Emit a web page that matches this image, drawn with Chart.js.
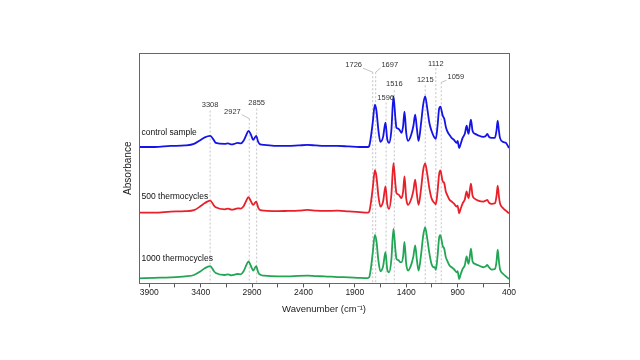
<!DOCTYPE html>
<html>
<head>
<meta charset="utf-8">
<script src="https://cdn.jsdelivr.net/npm/chart.js@4.4.0/dist/chart.umd.min.js"></script>
<style>
html, body { margin: 0; padding: 0; background: #fff; }
#wrap { width: 640px; height: 360px; }
</style>
</head>
<body>
<div id="wrap"><canvas id="chart_ftir" width="640" height="360"></canvas></div>
<script>
// FTIR spectra, wavenumber in cm-1 (x), absorbance with vertical offsets (y)
var wavenumbers = [
    4000, 3850, 3693, 3550, 3465, 3400, 3360, 3308, 3270, 3253,
    3166, 3133, 3100, 3074, 3042, 3010, 2984, 2960, 2935, 2910,
    2889, 2860, 2840, 2820, 2782, 2650, 2555, 2450, 2360, 2280,
    2197, 2067, 1960, 1853, 1775, 1760, 1745, 1726, 1705, 1690,
    1670, 1651, 1625, 1602, 1585, 1567, 1545, 1524, 1505, 1495,
    1475, 1460, 1446, 1430, 1417, 1400, 1382, 1349, 1330, 1313,
    1296, 1280, 1255, 1235, 1216, 1195, 1175, 1154, 1130, 1122,
    1112, 1095, 1080, 1068, 1045, 1030, 1015, 1002, 980, 959,
    935, 910, 900, 885, 870, 851, 830, 812, 800, 793,
    780, 770, 755, 731, 700, 651, 625, 612, 595, 569,
    537, 522, 510, 498, 488, 456, 430, 400
];
var controlSample = [
    1.35, 1.35, 1.36, 1.365, 1.38, 1.42, 1.445, 1.46, 1.415, 1.39,
    1.38, 1.385, 1.375, 1.38, 1.39, 1.385, 1.41, 1.46, 1.51, 1.47,
    1.42, 1.46, 1.40, 1.375, 1.37, 1.36, 1.36, 1.365, 1.37, 1.365,
    1.36, 1.36, 1.355, 1.35, 1.35, 1.36, 1.44, 1.59, 1.77, 1.71,
    1.51, 1.40, 1.45, 1.59, 1.43, 1.39, 1.51, 1.85, 1.63, 1.54,
    1.53, 1.51, 1.49, 1.56, 1.70, 1.49, 1.41, 1.48, 1.56, 1.67,
    1.53, 1.41, 1.59, 1.77, 1.85, 1.73, 1.59, 1.51, 1.45, 1.44,
    1.43, 1.56, 1.73, 1.75, 1.66, 1.63, 1.55, 1.51, 1.47, 1.44,
    1.42, 1.39, 1.41, 1.34, 1.38, 1.44, 1.48, 1.56, 1.50, 1.48,
    1.57, 1.62, 1.51, 1.48, 1.465, 1.45, 1.46, 1.48, 1.45, 1.44,
    1.44, 1.51, 1.61, 1.51, 1.44, 1.40, 1.39, 1.34
];
var thermocycles500 = [
    0.70, 0.70, 0.71, 0.715, 0.725, 0.765, 0.795, 0.82, 0.77, 0.753,
    0.733, 0.74, 0.73, 0.733, 0.743, 0.74, 0.76, 0.81, 0.853, 0.81,
    0.777, 0.81, 0.75, 0.725, 0.72, 0.715, 0.717, 0.72, 0.727, 0.72,
    0.717, 0.72, 0.712, 0.705, 0.70, 0.71, 0.79, 0.94, 1.12, 1.06,
    0.86, 0.76, 0.81, 0.96, 0.79, 0.737, 0.87, 1.19, 0.98, 0.893,
    0.88, 0.86, 0.843, 0.91, 1.06, 0.84, 0.777, 0.843, 0.92, 1.027,
    0.88, 0.777, 0.94, 1.12, 1.187, 1.08, 0.94, 0.843, 0.80, 0.793,
    0.783, 0.91, 1.08, 1.117, 1.01, 0.993, 0.91, 0.877, 0.83, 0.81,
    0.79, 0.76, 0.77, 0.693, 0.74, 0.793, 0.83, 0.91, 0.86, 0.843,
    0.93, 0.987, 0.87, 0.837, 0.82, 0.81, 0.82, 0.827, 0.80, 0.787,
    0.793, 0.86, 0.967, 0.86, 0.793, 0.743, 0.72, 0.693
];
var thermocycles1000 = [
    0.05, 0.055, 0.06, 0.07, 0.083, 0.12, 0.15, 0.17, 0.12, 0.103,
    0.083, 0.09, 0.08, 0.085, 0.093, 0.09, 0.117, 0.17, 0.217, 0.17,
    0.127, 0.17, 0.11, 0.085, 0.077, 0.07, 0.07, 0.075, 0.077, 0.072,
    0.07, 0.063, 0.06, 0.055, 0.053, 0.06, 0.14, 0.30, 0.48, 0.42,
    0.22, 0.12, 0.17, 0.31, 0.14, 0.11, 0.23, 0.54, 0.33, 0.243,
    0.23, 0.21, 0.21, 0.27, 0.41, 0.19, 0.127, 0.193, 0.27, 0.377,
    0.23, 0.127, 0.29, 0.47, 0.553, 0.44, 0.30, 0.193, 0.16, 0.16,
    0.133, 0.27, 0.45, 0.477, 0.37, 0.343, 0.26, 0.227, 0.18, 0.16,
    0.14, 0.11, 0.12, 0.043, 0.09, 0.143, 0.18, 0.267, 0.21, 0.193,
    0.28, 0.343, 0.22, 0.193, 0.18, 0.16, 0.17, 0.183, 0.16, 0.137,
    0.143, 0.21, 0.333, 0.22, 0.143, 0.093, 0.07, 0.043
];
var seriesNames = ['control sample', '500 thermocycles', '1000 thermocycles'];

// marked bands: where the dashed line starts, where its label sits
var peakWavenumbers = [3308, 2927, 2855, 1726, 1697, 1596, 1516, 1215, 1112, 1059];
var peakLineTops = [1.71, 1.63, 1.73, 2.09, 2.09, 1.79, 1.91, 1.96, 2.13, 1.99];
var peakLabelX = [3308, 3091, 2855, 1911, 1560, 1600, 1516, 1215, 1112, 917];
var peakLabelY = [1.77, 1.70, 1.79, 2.16, 2.16, 1.84, 1.97, 2.01, 2.17, 2.04];

var xTickLabels = [3900, 3400, 2900, 2400, 1900, 1400, 900, 400];
var xMinorTicks = [3650, 3150, 2650, 2150, 1650, 1150, 650];

var seriesLabelX = 3975;
var seriesLabelY = [1.49, 0.86, 0.24];

var traceColors = ['#1414e6', '#e8202a', '#22a655'];
var fontFamily = '"Liberation Sans", Arial, sans-serif';
var narrowFamily = '"Liberation Sans Narrow", "Liberation Sans", Arial, sans-serif';

function toPoints(ys) {
    return wavenumbers.map(function (w, i) { return { x: w, y: ys[i] }; });
}

var peakLinePoints = [];
peakWavenumbers.forEach(function (w, i) {
    peakLinePoints.push({ x: w, y: peakLineTops[i] }, { x: w, y: 0 }, { x: w, y: null });
});

var traces = [controlSample, thermocycles500, thermocycles1000];
var datasets = traces.map(function (ys, i) {
    return {
        label: seriesNames[i],
        data: toPoints(ys),
        borderColor: traceColors[i],
        borderWidth: 1.8,
        pointRadius: 0,
        cubicInterpolationMode: 'monotone',
        fill: false,
        order: 0
    };
});
datasets.push({
    label: 'bands',
    data: peakLinePoints,
    borderColor: '#b4b4b4',
    borderWidth: 0.8,
    borderDash: [2, 2],
    pointRadius: 0,
    spanGaps: false,
    order: 10
});

var framePlugin = {
    id: 'frame',
    afterDraw: function (chart) {
        var a = chart.chartArea, ctx = chart.ctx;
        ctx.save();
        ctx.strokeStyle = '#666';
        ctx.lineWidth = 1;
        ctx.strokeRect(Math.round(a.left) + 0.5, Math.round(a.top) + 0.5,
            Math.round(a.right - a.left), Math.round(a.bottom - a.top));
        // y axis title, drawn by hand so it sits close to the frame
        ctx.font = '10px ' + fontFamily;
        ctx.fillStyle = '#222';
        ctx.textAlign = 'center';
        ctx.textBaseline = 'middle';
        ctx.translate(a.left - 11, (a.top + a.bottom) / 2);
        ctx.rotate(-Math.PI / 2);
        ctx.fillText('Absorbance', 0, 0);
        ctx.restore();
    }
};

var labelPlugin = {
    id: 'peakLabels',
    afterDatasetsDraw: function (chart) {
        var ctx = chart.ctx, xs = chart.scales.x, ys = chart.scales.y;
        ctx.save();
        ctx.font = '7.5px ' + narrowFamily;
        ctx.textAlign = 'center';
        ctx.textBaseline = 'middle';
        ctx.fillStyle = '#333';
        peakWavenumbers.forEach(function (w, i) {
            var lx = xs.getPixelForValue(peakLabelX[i]);
            var ly = ys.getPixelForValue(peakLabelY[i]);
            ctx.fillText(String(w), lx, ly);
            var px = xs.getPixelForValue(w);
            if (Math.abs(px - lx) > 4) {
                var py = ys.getPixelForValue(peakLineTops[i]);
                var half = ctx.measureText(String(w)).width / 2 + 1;
                var sx = px > lx ? lx + half : lx - half;
                ctx.strokeStyle = '#b4b4b4';
                ctx.lineWidth = 0.8;
                ctx.beginPath();
                ctx.moveTo(sx, ly + 3);
                ctx.lineTo(px, py);
                ctx.stroke();
            }
        });
        ctx.font = '8.5px ' + narrowFamily;
        ctx.textAlign = 'left';
        ctx.fillStyle = '#111';
        seriesNames.forEach(function (name, i) {
            ctx.fillText(name, xs.getPixelForValue(seriesLabelX), ys.getPixelForValue(seriesLabelY[i]));
        });
        ctx.restore();
    }
};

var chart_ftir = new Chart(document.getElementById('chart_ftir'), {
    type: 'line',
    data: { datasets: datasets },
    options: {
        animation: false,
        responsive: false,
        layout: { padding: { left: 139, right: 131, top: 53, bottom: 45 } },
        plugins: {
            legend: { display: false },
            tooltip: { enabled: false }
        },
        scales: {
            x: {
                type: 'linear',
                reverse: true,
                min: 400,
                max: 4000,
                afterBuildTicks: function (axis) {
                    axis.ticks = xTickLabels.concat(xMinorTicks)
                        .sort(function (a, b) { return a - b; })
                        .map(function (v) { return { value: v }; });
                },
                ticks: {
                    autoSkip: false,
                    maxRotation: 0,
                    padding: 0,
                    color: '#222',
                    font: { family: fontFamily, size: 8.5 },
                    callback: function (v) { return xTickLabels.indexOf(v) >= 0 ? String(v) : ''; }
                },
                grid: { display: true, drawOnChartArea: false, drawTicks: true, tickLength: 4, color: '#555' },
                border: { display: true, color: '#555' },
                title: {
                    display: true,
                    text: 'Wavenumber (cm\u207B\u00B9)',
                    color: '#222',
                    font: { family: fontFamily, size: 9.5 },
                    padding: { top: 6, bottom: 0 }
                }
            },
            y: {
                type: 'linear',
                min: 0,
                max: 2.28,
                afterFit: function (scale) { scale.width = 0; },
                ticks: { display: false },
                grid: { display: false },
                border: { display: true, color: '#555' },
                title: { display: false }
            }
        }
    },
    plugins: [framePlugin, labelPlugin]
});
</script>
</body>
</html>
